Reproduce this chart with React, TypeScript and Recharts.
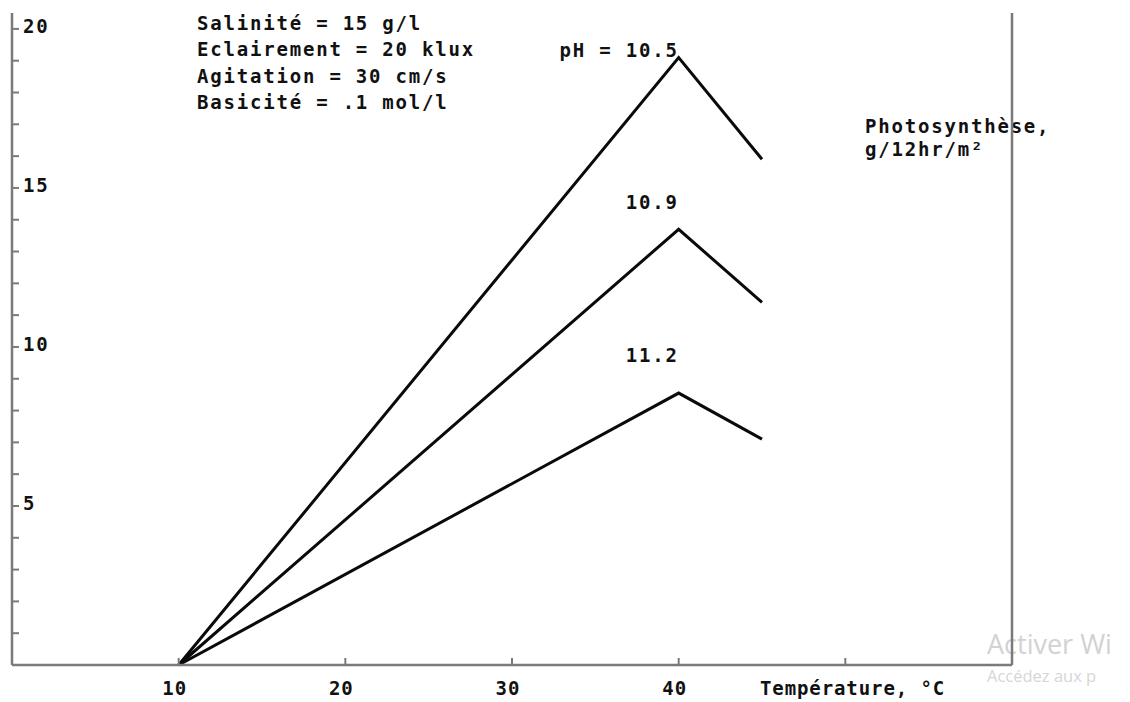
import { LineChart, Line, XAxis, YAxis } from "recharts";

// temperature (°C) at the three measured points
const temperatures = [10, 40, 45];

// photosynthesis, g/12hr/m², one array per pH curve
const ph105Values = [0, 19.1, 15.9];
const ph109Values = [0, 13.7, 11.4];
const ph112Values = [0, 8.55, 7.1];

const phLabels = ["pH = 10.5", "10.9", "11.2"];

const xTicks = [10, 20, 30, 40, 50];
const xLabelled = [10, 20, 30, 40];
const yTicks = [1, 2, 3, 4, 5, 6, 7, 8, 9, 10, 11, 12, 13, 14, 15, 16, 17, 18, 19, 20];
const yLabelled = [5, 10, 15, 20];

const conditions = [
  "Salinité = 15 g/l",
  "Eclairement = 20 klux",
  "Agitation = 30 cm/s",
  "Basicité = .1 mol/l",
];

const data = temperatures.map((t, i) => ({
  temp: t,
  ph105: ph105Values[i],
  ph109: ph109Values[i],
  ph112: ph112Values[i],
}));

const FONT = "'DejaVu Sans Mono', monospace";
const AXIS_COLOR = "#7a7a7a";

const textStyle = {
  fontFamily: FONT,
  fontWeight: 700,
  fontSize: 19,
  letterSpacing: 1.8,
  fill: "#111",
};

// vertical gap between each curve's peak and its pH label
const labelGaps = [8, 27, 38];

function LeftTick({ x, y, payload }: any) {
  const v = payload.value;
  return (
    <g>
      <line x1={x} x2={x + 7} y1={y} y2={y} stroke={AXIS_COLOR} strokeWidth={2} />
      {yLabelled.includes(v) && (
        <text x={x + 11} y={y - 3} dominantBaseline="central" style={textStyle}>
          {v}
        </text>
      )}
    </g>
  );
}

function RightTick({ x, y, payload }: any) {
  const v = payload.value;
  return (
    <g>
      <line x1={x - 7} x2={x} y1={y} y2={y} stroke={AXIS_COLOR} strokeWidth={2} />
      {yLabelled.includes(v) && (
        <text x={x + 10} y={y - 3} dominantBaseline="central" style={textStyle}>
          {v}
        </text>
      )}
    </g>
  );
}

function BottomTick({ x, y, payload }: any) {
  return (
    <g>
      <line x1={x} x2={x} y1={y} y2={y - 7} stroke={AXIS_COLOR} strokeWidth={2} />
      {xLabelled.includes(payload.value) && (
        <text
          x={x - 4}
          y={y + 23}
          textAnchor="middle"
          dominantBaseline="central"
          style={{ ...textStyle, letterSpacing: 1 }}
        >
          {payload.value}
        </text>
      )}
    </g>
  );
}

const peakLabel = (text: string, gap: number) => (props: any) => {
  if (props.index !== 1) return null;
  return (
    <text
      x={props.x}
      y={props.y - gap}
      textAnchor="end"
      dominantBaseline="central"
      style={textStyle}
    >
      {text}
    </text>
  );
};

export default function App() {
  return (
    <div style={{ position: "absolute", left: 0, top: 0, background: "#fff" }}>
      <LineChart
        width={1130}
        height={702}
        data={data}
        margin={{ top: 13, right: 117, left: 11, bottom: 0 }}
      >
        <XAxis
          type="number"
          dataKey="temp"
          domain={[0, 60]}
          ticks={xTicks}
          height={37}
          tickSize={0}
          tickMargin={0}
          tickLine={false}
          interval={0}
          axisLine={{ stroke: AXIS_COLOR, strokeWidth: 2.5 }}
          tick={<BottomTick />}
        />
        <YAxis
          yAxisId="left"
          domain={[0, 20.5]}
          ticks={yTicks}
          width={1}
          tickSize={0}
          tickMargin={0}
          tickLine={false}
          interval={0}
          axisLine={{ stroke: AXIS_COLOR, strokeWidth: 2.5 }}
          tick={<LeftTick />}
        />
        <YAxis
          yAxisId="right"
          orientation="right"
          domain={[0, 20.5]}
          ticks={yTicks}
          width={1}
          tickSize={0}
          tickMargin={0}
          tickLine={false}
          interval={0}
          axisLine={{ stroke: AXIS_COLOR, strokeWidth: 2.5 }}
          tick={<RightTick />}
        />
        <Line
          yAxisId="left"
          type="linear"
          dataKey="ph105"
          stroke="#0a0a0a"
          strokeWidth={3}
          dot={false}
          isAnimationActive={false}
          label={peakLabel(phLabels[0], labelGaps[0])}
        />
        <Line
          yAxisId="left"
          type="linear"
          dataKey="ph109"
          stroke="#0a0a0a"
          strokeWidth={3}
          dot={false}
          isAnimationActive={false}
          label={peakLabel(phLabels[1], labelGaps[1])}
        />
        <Line
          yAxisId="left"
          type="linear"
          dataKey="ph112"
          stroke="#0a0a0a"
          strokeWidth={3}
          dot={false}
          isAnimationActive={false}
          label={peakLabel(phLabels[2], labelGaps[2])}
        />

        {conditions.map((c, i) => (
          <text key={c} x={197} y={23 + i * 26.3} dominantBaseline="central" style={textStyle}>
            {c}
          </text>
        ))}
        <text x={865} y={126} dominantBaseline="central" style={textStyle}>
          Photosynthèse,
        </text>
        <text x={865} y={149} dominantBaseline="central" style={textStyle}>
          g/12hr/m²
        </text>
        <text x={760} y={688} dominantBaseline="central" style={{ ...textStyle, letterSpacing: 0.9 }}>
          Température, °C
        </text>

        <text x={987} y={643} dominantBaseline="central" style={{ fontFamily: "'Open Sans', sans-serif", fontSize: 27, fill: "#d2d2d2" }}>
          Activer Wi
        </text>
        <text x={987} y={675} dominantBaseline="central" style={{ fontFamily: "'Open Sans', sans-serif", fontSize: 16.5, fill: "#d6d6d6" }}>
          Accédez aux p
        </text>
      </LineChart>
    </div>
  );
}
